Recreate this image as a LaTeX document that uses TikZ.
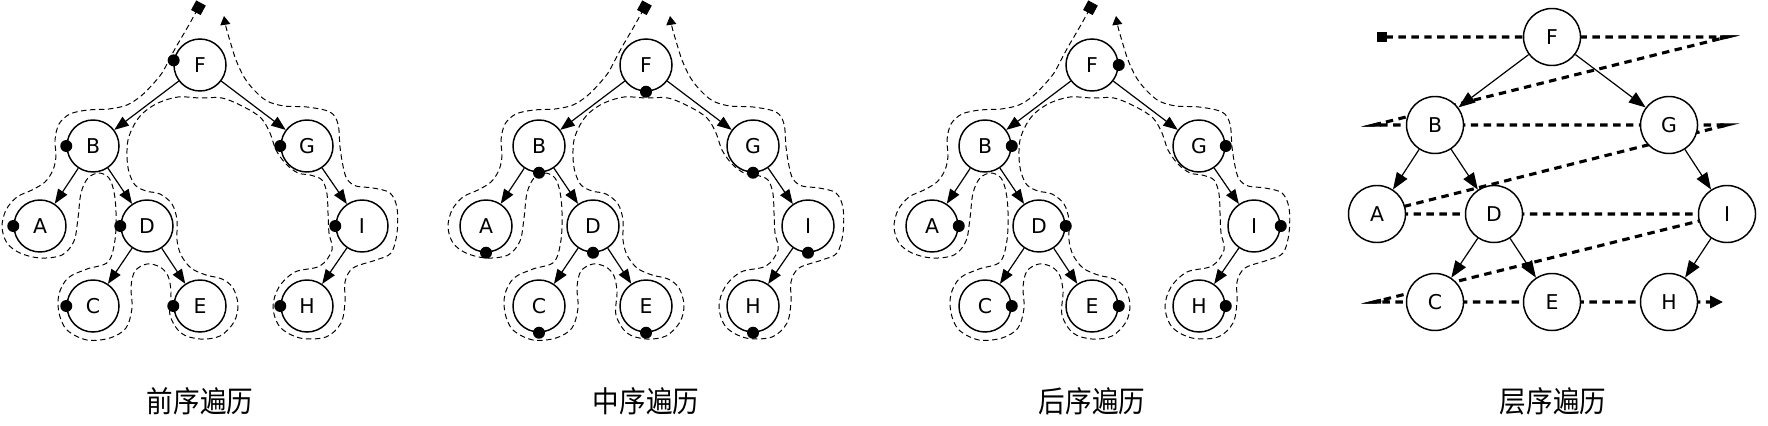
\documentclass[tikz,border=0pt]{standalone}
\usepackage{fontspec}
\setmainfont{DejaVu Sans}
\newfontfamily\cjkfont{Noto Sans CJK SC}
\usetikzlibrary{arrows.meta,calc}
\pgfdeclarelayer{background}
\pgfsetlayers{background,main}

\tikzset{
  tn/.style={circle, draw, line width=1.05pt, fill=white, minimum size=1.3cm, inner sep=0pt, font=\fontsize{14.5}{17}\selectfont},
  tnl/.style={tn, minimum size=1.425cm},
  edge/.style={line width=0.85pt, -{Triangle[length=0.36cm,width=0.27cm]}},
  edgel/.style={line width=0.85pt, -{Triangle[length=0.42cm,width=0.31cm]}},
  tour/.style={line width=0.7pt, dash pattern=on 3.9pt off 2.5pt, {Square[length=0.27cm,width=0.27cm]}-{Triangle[length=0.22cm,width=0.25cm]}},
  levelpath/.style={line width=2.2pt, dash pattern=on 5.3pt off 3.9pt, line join=miter, miter limit=12, {Square[length=0.25cm,width=0.25cm]}-{Triangle[length=0.32cm,width=0.3cm]}},
  spike/.style={line width=2.2pt, line join=miter, miter limit=12},
  lab/.style={inner sep=0pt},
}

\newcommand{\tourpath}{%
  \draw[tour] plot[smooth, tension=0.55] coordinates {
  (201,3) (195,14) (186,30) (176,47) (168,62) (162,73) (153,84) (141,96)
  (127,105) (109,109) (88,110) (70,114) (59,124) (55,140) (56,156) (53,170)
  (45,182) (32,190) (17,197) (6,210) (2,227) (7,243) (20,253) (40,258)
  (62,255) (74,241) (78,218) (81,193) (88,178) (99,173) (109,178) (114,192)
  (116,212) (115,240) (108,262) (87,269) (68,278) (59,294) (59,313) (67,330)
  (87,340) (110,338) (126,328) (132,308) (131,287) (135,271) (147,264)
  (160,267) (168,276) (171,292) (170,315) (181,333) (200,339) (220,336)
  (234,322) (238,305) (233,288) (222,279) (206,275) (191,268) (181,255)
  (177,240) (177,220) (172,204) (160,194) (146,191) (135,185) (129,172)
  (127,157) (128,140) (134,125) (143,113) (158,103) (178,97) (200,98)
  (222,98) (244,107) (261,118) (270,133) (276,150) (286,164) (298,173)
  (310,175) (322,180) (327,194) (328,213) (329,233) (332,250) (320,266)
  (295,272) (279,287) (273,307) (280,327) (300,338) (326,337) (341,323)
  (345,302) (345,282) (353,268) (376,260) (391,253) (397,233) (397,208)
  (390,193) (373,188) (356,186) (347,179) (343,166) (340,147) (338,124)
  (330,112) (307,107) (284,106) (267,101) (254,90) (244,77) (236,60)
  (230,41) (226,27) (224,16)};}

\newcommand{\treepanel}[4]{%
  \begin{scope}[shift={(#2,0)}]
    \node[tn] (F#1) at (200,65) {F};
    \node[tn] (B#1) at (93,146) {B};
    \node[tn] (G#1) at (307,146) {G};
    \node[tn] (A#1) at (40,226) {A};
    \node[tn] (D#1) at (147,226) {D};
    \node[tn] (I#1) at (362,226) {I};
    \node[tn] (C#1) at (93,306) {C};
    \node[tn] (E#1) at (200,306) {E};
    \node[tn] (H#1) at (307,306) {H};
    \draw[edge] (F#1) -- (B#1);
    \draw[edge] (F#1) -- (G#1);
    \draw[edge] (B#1) -- (A#1);
    \draw[edge] (B#1) -- (D#1);
    \draw[edge] (D#1) -- (C#1);
    \draw[edge] (D#1) -- (E#1);
    \draw[edge] (G#1) -- (I#1);
    \draw[edge] (I#1) -- (H#1);
    \tourpath
    \fill (F#1.#4) circle[radius=0.15cm];
    \foreach \nn in {B,G,A,D,I,C,E,H} {\fill (\nn#1.#3) circle[radius=0.15cm];}
  \end{scope}}

\begin{document}
\begin{tikzpicture}[x=0.025cm, y=-0.025cm]
\useasboundingbox (0,0) rectangle (1768,426);

\treepanel{1}{0}{180}{170}
\treepanel{2}{446}{270}{270}
\treepanel{3}{892}{0}{0}

% level order panel
\node[tnl] (F4) at (1552,37) {F};
\node[tnl] (B4) at (1435,125) {B};
\node[tnl] (G4) at (1669,125) {G};
\node[tnl] (A4) at (1377,214) {A};
\node[tnl] (D4) at (1494,214) {D};
\node[tnl] (I4) at (1727,214) {I};
\node[tnl] (C4) at (1435,302) {C};
\node[tnl] (E4) at (1552,302) {E};
\node[tnl] (H4) at (1669,302) {H};
\draw[edgel] (F4) -- (B4);
\draw[edgel] (F4) -- (G4);
\draw[edgel] (B4) -- (A4);
\draw[edgel] (B4) -- (D4);
\draw[edgel] (D4) -- (C4);
\draw[edgel] (D4) -- (E4);
\draw[edgel] (G4) -- (I4);
\draw[edgel] (I4) -- (H4);

\coordinate (S4) at (1377,37);
\coordinate (R1) at (1727,37);
\coordinate (L2) at (1374,125);
\coordinate (R2) at (1727,125);
\coordinate (L3) at (1374,214);
\coordinate (R3) at (1727,214);
\coordinate (L4) at (1374,302);
\coordinate (T4) at (1723,302);

\begin{pgfonlayer}{background}
\draw[levelpath] (S4) -- (R1) -- (L2) -- (R2) -- (L3) -- (R3) -- (L4) -- (T4);
\draw[spike] ($(R1)+(-7,0)$) -- (R1) -- ($(R1)!0.02!(L2)$);
\draw[spike] ($(L2)!0.02!(R1)$) -- (L2) -- ($(L2)+(7,0)$);
\draw[spike] ($(R2)+(-7,0)$) -- (R2) -- ($(R2)!0.02!(L3)$);
\draw[spike] ($(L4)!0.02!(R3)$) -- (L4) -- ($(L4)+(7,0)$);
\end{pgfonlayer}

% captions
\node[lab] (T1) at (200,401) {\cjkfont\fontsize{21}{25}\selectfont\scalebox{0.9}[1]{前序遍历}};
\node[lab] (T2) at (646,401) {\cjkfont\fontsize{21}{25}\selectfont\scalebox{0.9}[1]{中序遍历}};
\node[lab] (T3) at (1092,401) {\cjkfont\fontsize{21}{25}\selectfont\scalebox{0.9}[1]{后序遍历}};
\node[lab] (T4l) at (1553,401) {\cjkfont\fontsize{21}{25}\selectfont\scalebox{0.9}[1]{层序遍历}};
\end{tikzpicture}
\end{document}
